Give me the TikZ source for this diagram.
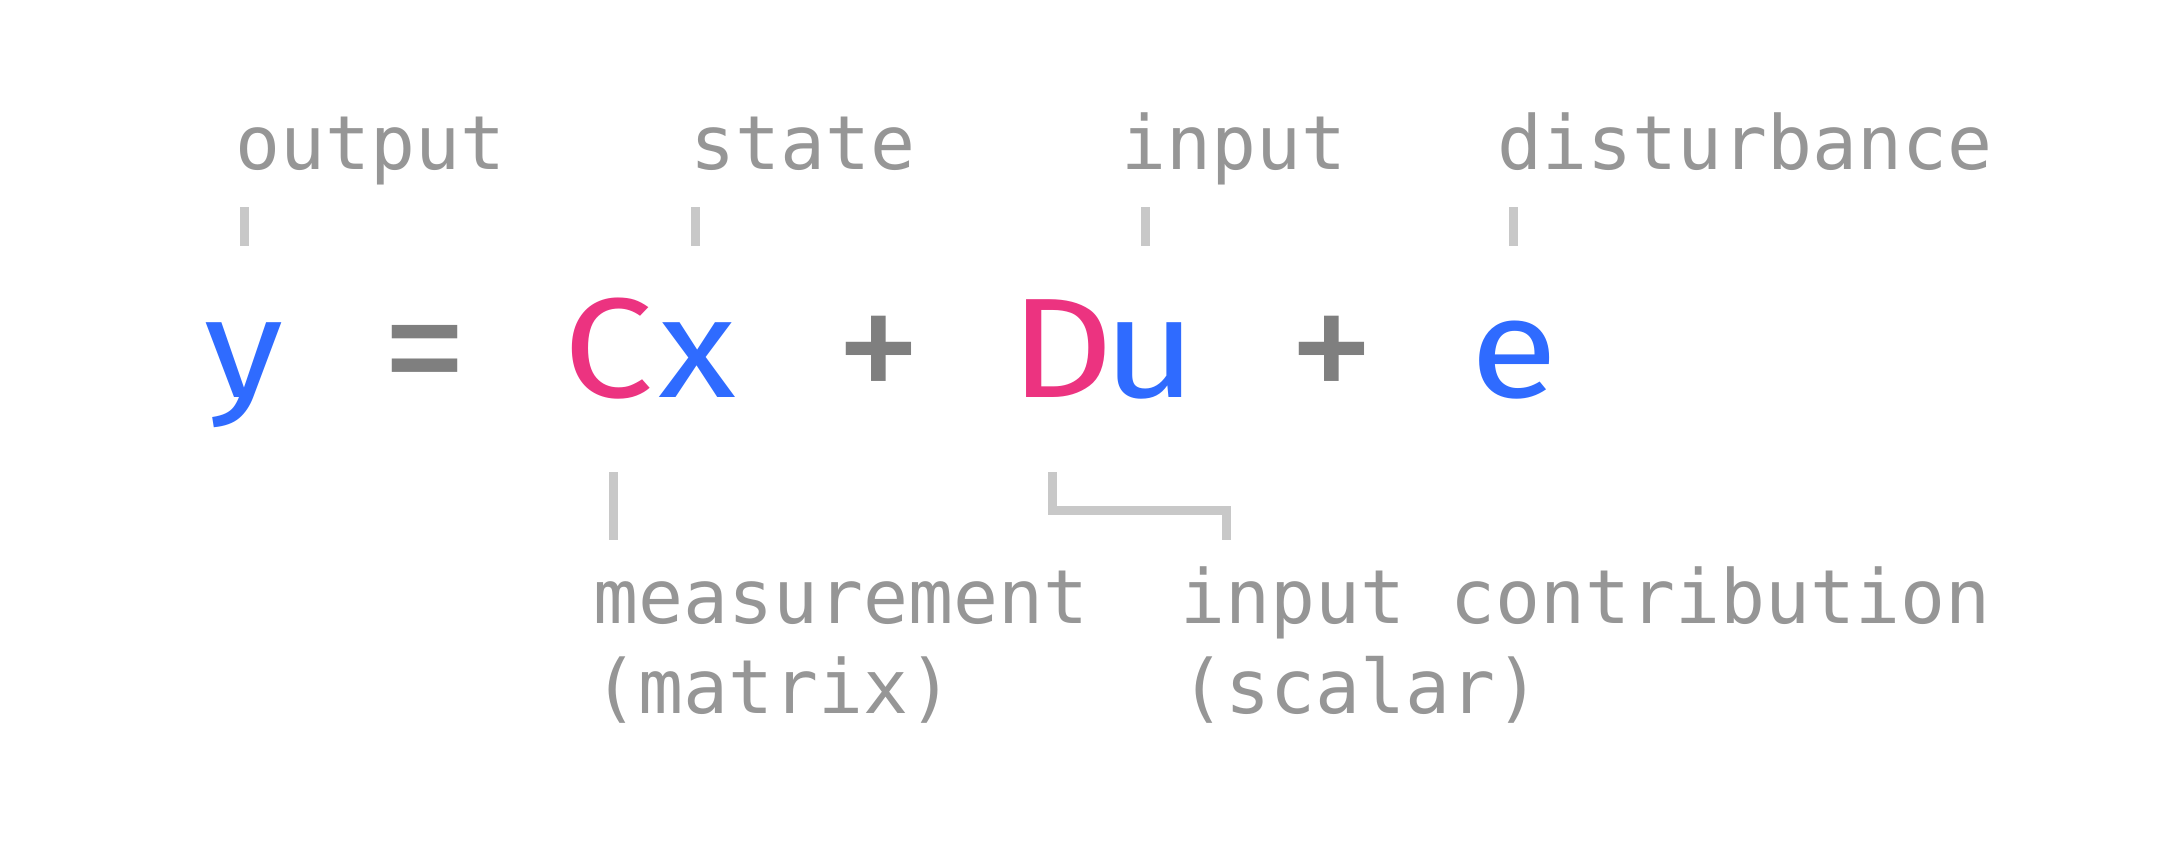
\documentclass[tikz,border=0pt]{standalone}
\usepackage{fontspec}
\setmainfont{Fira Sans}
\newfontfamily\monofont{DejaVu Sans Mono}
\newfontfamily\eqfont[FakeStretch=1.13]{Fira Sans}
\newfontfamily\opfont{Fira Sans}
\definecolor{lblgray}{HTML}{969696}
\definecolor{tickgray}{HTML}{C8C8C8}
\definecolor{opgray}{HTML}{7F7F7F}
\definecolor{eqblue}{HTML}{2F6BFF}
\definecolor{eqpink}{HTML}{EC3380}
\tikzset{
  lbl/.style={font=\monofont\fontsize{74.75}{90}\selectfont, text=lblgray, inner sep=0pt},
  eqg/.style={font=\eqfont\fontsize{142}{150}\selectfont, inner sep=0pt, anchor=base},
  opg/.style={font=\opfont\fontsize{174}{180}\selectfont, inner sep=0pt, anchor=base, text=opgray},
  tickline/.style={draw=tickgray, line width=9pt, line join=miter},
}
\begin{document}
\begin{tikzpicture}[x=1pt,y=-1pt]
\useasboundingbox[fill=white] (0,0) rectangle (2180,848);
% top labels
\node[lbl, anchor=base] (lout) at (371,170) {output};
\node[lbl, anchor=base] (lstate) at (803.5,170) {state};
\node[lbl, anchor=base] (lin) at (1233.5,170) {input};
\node[lbl, anchor=base] (ldist) at (1745.5,170) {disturbance};
% equation glyphs
\node[eqg, text=eqblue] (gy) at (243.5,397) {y};
\node[opg] (geq) at (425,406) {=};
\node[eqg, text=eqpink] (gC) at (608.5,397) {C};
\node[eqg, text=eqblue] (gx) at (697.5,397) {x};
\node[opg] (gp1) at (878.5,406) {+};
\node[eqg, text=eqpink] (gD) at (1062.5,397) {D};
\node[eqg, text=eqblue] (gu) at (1150,397) {u};
\node[opg] (gp2) at (1332,406) {+};
\node[eqg, text=eqblue] (ge) at (1514,397) {e};
% lower labels
\node[lbl, anchor=base west] (lmeas) at (593,623) {measurement};
\node[lbl, anchor=base west] (lmat) at (593,713) {(matrix)};
\node[lbl, anchor=base west] (lcontr) at (1180,623) {input contribution};
\node[lbl, anchor=base west] (lscal) at (1180,713) {(scalar)};
% tick coordinates
\coordinate (t1a) at (244.5,207); \coordinate (t1b) at (244.5,246);
\coordinate (t2a) at (695.5,207); \coordinate (t2b) at (695.5,246);
\coordinate (t3a) at (1145.5,207); \coordinate (t3b) at (1145.5,246);
\coordinate (t4a) at (1513.5,207); \coordinate (t4b) at (1513.5,246);
\coordinate (m1a) at (613.5,472); \coordinate (m1b) at (613.5,540);
\coordinate (b1) at (1052.5,472); \coordinate (b2) at (1052.5,510.5);
\coordinate (b3) at (1226,510.5); \coordinate (b4) at (1226,540);
\draw[tickline] (t1a) -- (t1b);
\draw[tickline] (t2a) -- (t2b);
\draw[tickline] (t3a) -- (t3b);
\draw[tickline] (t4a) -- (t4b);
\draw[tickline] (m1a) -- (m1b);
\draw[tickline] (b1) -- (b2) -- (b3) -- (b4);
\end{tikzpicture}
\end{document}
